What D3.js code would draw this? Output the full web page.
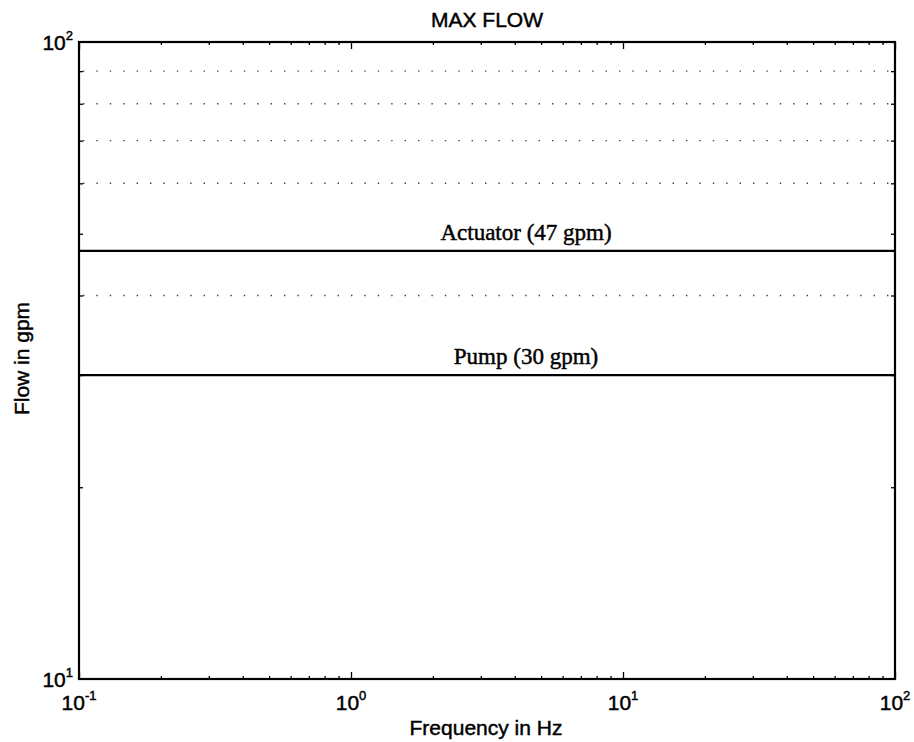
<!DOCTYPE html>
<html>
<head>
<meta charset="utf-8">
<script src="https://cdn.jsdelivr.net/npm/d3@7"></script>
<style>
  html, body { margin: 0; padding: 0; background: #fff; }
  svg { display: block; }
  text { stroke: #000; stroke-width: 0.45px; }
</style>
</head>
<body>
<svg id="chart" width="914" height="742"></svg>
<script>
// ---- data ----
const chartTitle = "MAX FLOW";
const xLabel = "Frequency in Hz";
const yLabel = "Flow in gpm";
const xDomain = [0.1, 100];
const yDomain = [10, 100];
const seriesNames = ["Actuator (47 gpm)", "Pump (30 gpm)"];
const seriesValues = [47, 30];
const labelFreq = 4.4;               // frequency where series labels are centred
const gridValues = [40, 60, 70, 80, 90]; // visible dotted grid lines
const xTickExponents = [-1, 0, 1, 2];
const yTickExponents = [1, 2];
const xMinorTicks = [0.2,0.3,0.4,0.5,0.6,0.7,0.8,0.9,2,3,4,5,6,7,8,9,20,30,40,50,60,70,80,90];
const yMinorTicks = [20,30,40,50,60,70,80,90];

// ---- layout ----
const svg = d3.select("#chart");
const mLeft = 79, mRight = 895, mTop = 42, mBottom = 679;

const x = d3.scaleLog().domain(xDomain).range([mLeft, mRight]);
const y = d3.scaleLog().domain(yDomain).range([mBottom, mTop]);

const sans = "'Liberation Sans', Arial, Helvetica, sans-serif";
const serif = "'Liberation Serif', 'Times New Roman', serif";

// dotted grid
svg.append("g").selectAll("line").data(gridValues).join("line")
  .attr("x1", x(xDomain[0]) + 4).attr("x2", x(xDomain[1]))
  .attr("y1", d => y(d)).attr("y2", d => y(d))
  .attr("stroke", "#444").attr("stroke-width", 1.4)
  .attr("stroke-dasharray", "1.4,12");

// axes ticks (inward)
const majorX = xTickExponents.map(e => Math.pow(10, e));
function addAxis(gen, transform) {
  const g = svg.append("g").attr("transform", transform).call(gen);
  g.select(".domain").remove();
  g.selectAll("line").attr("stroke", "#000").attr("stroke-width", 1.3);
  g.selectAll("text").remove();
}
addAxis(d3.axisBottom(x).tickValues(majorX).tickSize(-7).tickFormat(""), `translate(0,${mBottom})`);
addAxis(d3.axisTop(x).tickValues(majorX).tickSize(-7).tickFormat(""), `translate(0,${mTop})`);
addAxis(d3.axisBottom(x).tickValues(xMinorTicks).tickSize(-3).tickFormat(""), `translate(0,${mBottom})`);
addAxis(d3.axisTop(x).tickValues(xMinorTicks).tickSize(-3).tickFormat(""), `translate(0,${mTop})`);
addAxis(d3.axisLeft(y).tickValues(yMinorTicks).tickSize(-4).tickFormat(""), `translate(${mLeft},0)`);
addAxis(d3.axisRight(y).tickValues(yMinorTicks).tickSize(-4).tickFormat(""), `translate(${mRight},0)`);

// box
svg.append("rect")
  .attr("x", mLeft).attr("y", mTop)
  .attr("width", mRight - mLeft).attr("height", mBottom - mTop)
  .attr("fill", "none").attr("stroke", "#000").attr("stroke-width", 2.2);

// series lines
const line = d3.line().x(d => x(d[0])).y(d => y(d[1]));
svg.append("g").selectAll("path").data(seriesValues).join("path")
  .attr("d", v => line([[xDomain[0], v], [xDomain[1], v]]))
  .attr("fill", "none").attr("stroke", "#000").attr("stroke-width", 2.3);

// series labels
svg.append("g").selectAll("text").data(seriesNames).join("text")
  .attr("x", x(labelFreq))
  .attr("y", (d, i) => y(seriesValues[i]) - 11)
  .attr("text-anchor", "middle")
  .attr("font-family", serif).attr("font-size", 23)
  .attr("fill", "#000")
  .text(d => d);

// tick labels with superscripts
function powLabel(sel, exp) {
  sel.append("tspan").text("10");
  sel.append("tspan").attr("dy", -10).attr("font-size", 13).text(exp < 0 ? "-" + (-exp) : String(exp));
}
xTickExponents.forEach(e => {
  const t = svg.append("text")
    .attr("x", x(Math.pow(10, e))).attr("y", 710)
    .attr("text-anchor", "middle")
    .attr("font-family", sans).attr("font-size", 21).attr("fill", "#000");
  powLabel(t, e);
});
yTickExponents.forEach(e => {
  const t = svg.append("text")
    .attr("x", mLeft - 6).attr("y", y(Math.pow(10, e)) + 8)
    .attr("text-anchor", "end")
    .attr("font-family", sans).attr("font-size", 21).attr("fill", "#000");
  powLabel(t, e);
});

// title and axis labels
svg.append("text")
  .attr("x", (mLeft + mRight) / 2).attr("y", 27)
  .attr("text-anchor", "middle")
  .attr("font-family", sans).attr("font-size", 21).attr("fill", "#000")
  .text(chartTitle);

svg.append("text")
  .attr("x", (mLeft + mRight) / 2 - 1).attr("y", 735)
  .attr("text-anchor", "middle")
  .attr("font-family", sans).attr("font-size", 21).attr("fill", "#000")
  .text(xLabel);

svg.append("text")
  .attr("transform", `translate(29,${(mTop + mBottom) / 2 - 2}) rotate(-90)`)
  .attr("text-anchor", "middle")
  .attr("font-family", sans).attr("font-size", 21).attr("fill", "#000")
  .text(yLabel);
</script>
</body>
</html>
